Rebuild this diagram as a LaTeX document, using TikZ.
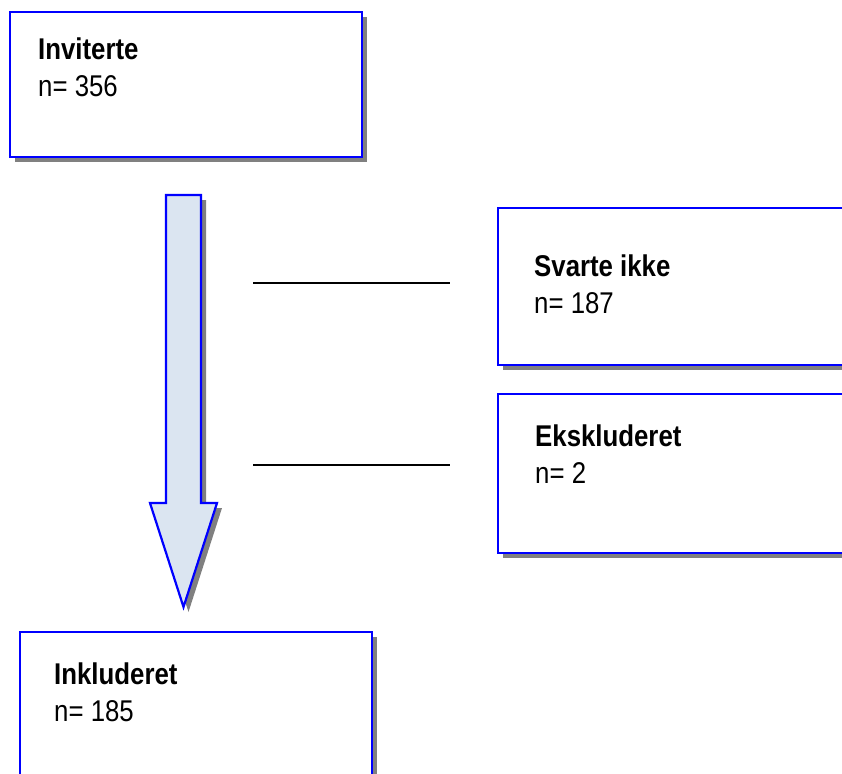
\documentclass[tikz,border=0pt]{standalone}
\usepackage{fontspec}
\setmainfont{Liberation Sans}[FakeStretch=0.86]
\usetikzlibrary{shadows}
\definecolor{pilfyll}{RGB}{219,229,241}

\tikzset{
  boks/.style={draw=blue, line width=2.2pt, fill=white, anchor=north west,
    inner sep=0pt, drop shadow={shadow xshift=5pt, shadow yshift=-5pt,
    fill=gray, opacity=1}},
  tekst/.style={anchor=north west, inner sep=0pt, align=left,
    font=\fontsize{30}{37}\selectfont},
  pil/.style={draw=blue, line width=2.2pt, fill=pilfyll,
    drop shadow={shadow xshift=5pt, shadow yshift=-5pt, fill=gray, opacity=1}},
  strek/.style={line width=2.2pt}
}

\begin{document}
\begin{tikzpicture}[x=1pt,y=-1pt]
  \useasboundingbox (0,0) rectangle (842,773);
  % pil ned
  \draw[pil] (166,195) -- (201,195) -- (201,503) -- (217,503)
    -- (183.5,607) -- (150,503) -- (166,503) -- cycle;
  % bokser
  \node[boks, minimum width=352pt, minimum height=145pt] (inv)  at (9,11)   {};
  \node[boks, minimum width=360pt, minimum height=157pt] (svar) at (497,207) {};
  \node[boks, minimum width=360pt, minimum height=159pt] (eks)  at (497,393) {};
  \node[boks, minimum width=352pt, minimum height=160pt] (inkl) at (19,631)  {};
  % tekster
  \node[tekst] (invT)  at ([shift={(29,27)}]inv.north west)  {\textbf{Inviterte}\\n= 356};
  \node[tekst] (svarT) at ([shift={(37,48)}]svar.north west) {\textbf{Svarte ikke}\\n= 187};
  \node[tekst] (eksT)  at ([shift={(38,32)}]eks.north west)  {\textbf{Ekskluderet}\\n= 2};
  \node[tekst] (inklT) at ([shift={(35,32)}]inkl.north west) {\textbf{Inkluderet}\\n= 185};
  % streker
  \coordinate (s1a) at (253,283); \coordinate (s1b) at (450,283);
  \coordinate (s2a) at (253,465); \coordinate (s2b) at (450,465);
  \draw[strek] (s1a) -- (s1b);
  \draw[strek] (s2a) -- (s2b);
\end{tikzpicture}
\end{document}
